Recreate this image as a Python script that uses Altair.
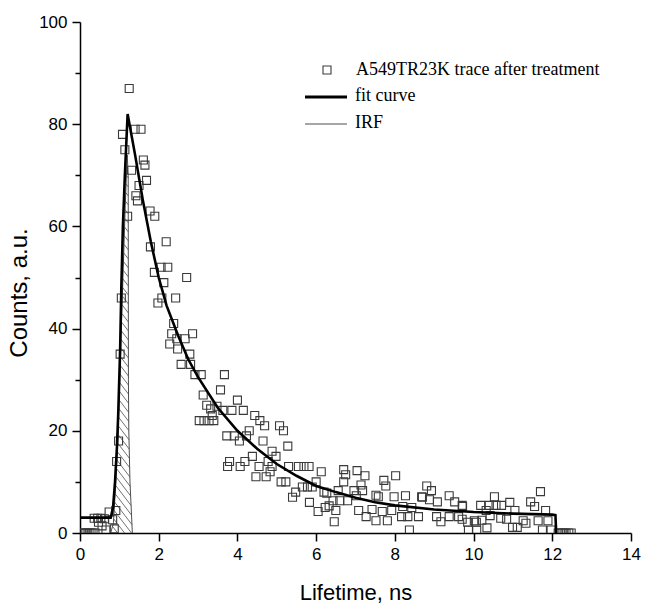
import altair as alt
import pandas as pd
import numpy as np

# ---------------- data ----------------
trace_x = [0.03, 0.08, 0.13, 0.18, 0.23, 0.28, 0.33, 0.38,
           0.36, 0.45, 0.53, 0.62, 0.47, 0.56, 0.74, 0.83, 0.66, 0.87, 0.91,
           0.93, 0.98, 1.02, 1.05,
           1.08, 1.14, 1.25, 1.21, 1.31, 1.40, 1.55, 1.42, 1.46, 1.50, 1.61, 1.65, 1.69,
           1.78, 1.90, 1.79, 2.19, 1.89, 2.06, 2.23, 2.71, 2.13, 1.98, 2.08, 2.43, 2.38,
           2.33, 2.86, 2.28, 2.46, 2.67, 2.48, 2.57, 2.79, 2.81, 2.92, 3.08, 3.67, 3.57,
           3.13, 3.22, 3.32, 3.48, 3.63, 3.86, 4.00, 4.15, 3.03, 3.15, 3.28, 3.40, 3.36,
           4.44, 4.57, 4.69, 4.30, 4.23, 3.73, 3.92, 4.05, 4.65, 5.07, 5.17, 5.28, 4.88,
           4.38, 4.98, 3.80, 3.75, 4.07, 4.19, 4.55, 4.78, 4.88, 5.30, 5.55, 5.69, 5.82,
           4.47, 4.73, 4.83, 5.11, 5.23, 6.13, 6.00, 5.65, 5.78, 5.90, 5.48, 5.40, 6.20,
           5.83, 6.05, 6.23,
           6.70, 6.75, 6.70, 7.04, 7.24, 7.14, 7.18, 6.96, 7.72, 7.77, 8.02, 6.56, 6.27,
           6.43, 6.60, 6.80, 7.02, 6.33, 6.50, 6.46, 7.08, 7.27, 7.42, 7.52, 7.58, 7.68,
           7.81, 7.92, 7.98, 8.17, 8.27, 8.33, 8.37, 8.43, 8.60, 8.68, 8.81, 8.93, 8.88,
           9.06, 9.17, 9.08, 9.38, 9.52, 9.38, 9.62, 9.72, 8.20, 7.52, 8.70, 9.85,
           9.71, 9.71, 10.02, 10.07, 9.87, 10.08, 10.34, 10.18, 10.32, 10.40, 10.53, 10.57,
           10.71, 10.69, 10.92, 11.05, 10.99, 11.11, 11.26, 11.33, 11.45, 11.55, 11.70,
           11.83, 11.64, 11.89, 11.97, 10.21, 10.42, 10.84, 11.75,
           12.15, 12.20, 12.25, 12.30, 12.35, 12.42, 12.48]
trace_y = [0, 0, 0, 0, 0, 0, 0, 0,
           2.9, 2.9, 2.9, 2.8, 2.1, 1.4, 4.1, 2.6, 0.6, 0.8, 4.4,
           14, 18, 35, 46,
           78, 75, 87, 62, 71, 79, 79, 66, 65, 68, 73, 72, 69,
           63, 62, 56, 57, 51, 52, 52, 50, 49, 45, 46, 46, 41,
           39, 39, 37, 38, 38, 36, 33, 35, 33, 31, 31, 31, 28,
           27, 25, 24.3, 24.8, 24, 24, 26, 24, 22, 22, 22, 22, 23,
           23, 22, 21, 20, 19, 19, 19, 18, 18, 21, 20, 17, 16,
           15, 15, 14, 13, 13, 14, 13, 14, 13, 13, 13, 13, 13,
           11, 11, 12, 10, 10, 12, 10, 9, 9, 9, 8, 7, 8,
           6, 4.2, 5,
           12.4, 11.4, 10, 12.2, 11.2, 9.4, 8.3, 8.3, 10.3, 9.2, 11.2, 8.3, 7.8,
           6.3, 6.3, 6.3, 7.3, 5.3, 4.4, 2.2, 4.4, 3.2, 4.6, 2.4, 7.1, 4.2,
           2.4, 4.4, 7.1, 3.2, 7.3, 3.2, 0.6, 5.0, 3.2, 7.1, 9.2, 8.3, 6.5,
           3.2, 2.2, 6.1, 7.3, 6.1, 3.2, 3.2, 5.2, 5.2, 7.4, 7.0, 2.1,
           5.4, 2.7, 2.4, 2.1, 0.6, 0.6, 1.0, 5.4, 4.4, 5.4, 7.1, 5.4,
           5.4, 2.9, 6.0, 4.4, 1.1, 1.1, 2.4, 1.9, 6.1, 5.2, 8.1,
           4.4, 2.4, 2.4, 0.6, 2.5, 3.4, 2.7, 0.6,
           0, 0, 0, 0, 0, 0, 0]

fit_x = [0.0, 0.78, 0.84, 0.89, 0.94, 0.97, 1.02, 1.05, 1.09, 1.14, 1.21, 1.40, 1.60,
         1.80, 2.00, 2.20, 2.50, 2.75, 3.00, 3.50, 4.00, 4.50, 5.00, 5.50, 6.00, 6.50,
         7.00, 7.50, 8.00, 9.00, 10.00, 11.00, 12.00, 12.08, 12.10]
fit_y = [3.0, 3.0, 5.0, 10.0, 17.0, 23.0, 36.0, 48.0, 60.0, 70.0, 82.0, 74.0, 65.0,
         57.0, 50.0, 44.5, 38.5, 34.0, 30.5, 24.5, 20.0, 16.5, 13.5, 11.2, 9.2, 8.0,
         6.9, 6.0, 5.4, 4.6, 4.1, 3.8, 3.6, 3.5, 0.0]

irf_x = [0.78, 0.85, 0.91, 0.96, 1.00, 1.05, 1.10, 1.15, 1.20, 1.225, 1.23, 1.24, 1.27, 1.33]
irf_y = [0.0, 2.0, 10.0, 18.0, 27.0, 40.0, 52.0, 64.0, 74.0, 70.0, 30.0, 20.0, 10.0, 0.0]

x_tick_values = list(range(0, 15))        # major every 2, minor every 1
y_tick_values = list(range(0, 101, 10))   # major every 20, minor every 10
legend_labels = ["A549TR23K trace after treatment", "fit curve", "IRF"]

# ---------------- layout ----------------
W, H = 551, 511
X_DOMAIN = [0, 14]
Y_DOMAIN = [0, 100]

trace_df = pd.DataFrame({"x": trace_x, "y": trace_y})
fit_df = pd.DataFrame({"x": fit_x, "y": fit_y, "i": range(len(fit_x))})
irf_df = pd.DataFrame({"x": irf_x, "y": irf_y, "i": range(len(irf_x))})

# hatch segments clipped to the IRF area (derived from the IRF arrays)
kx = W / (X_DOMAIN[1] - X_DOMAIN[0])
ky = H / (Y_DOMAIN[1] - Y_DOMAIN[0])
slope = 1.3 * kx / ky          # data-units of y per unit of x
step = 9.0 / ky                # vertical spacing of hatch lines
xs = np.linspace(irf_x[0], irf_x[-1], 4000)
top = np.interp(xs, irf_x, irf_y)
segs = []
c = step
while c < max(irf_y) + slope * (irf_x[-1] - irf_x[0]):
    yl = c - slope * (xs - irf_x[0])
    inside = np.where((yl >= 0) & (yl <= top))[0]
    if len(inside) > 1:
        a, b = inside[0], inside[-1]
        segs.append({"x": xs[a], "y": yl[a], "x2": xs[b], "y2": yl[b]})
    c += step
hatch_df = pd.DataFrame(segs)

FONT = "Liberation Sans"
SERIF = "Liberation Serif"

x_axis = alt.Axis(
    values=x_tick_values,
    labelExpr="datum.value % 2 === 0 ? datum.label : ''",
    tickSize={"condition": {"test": "datum.value % 2 === 0", "value": 8}, "value": 5},
    title="Lifetime, ns", grid=False,
    domainColor="black", domainWidth=1.5, tickColor="black", tickWidth=1.5,
    labelFont=FONT, labelFontSize=17, labelColor="black", labelPadding=5,
    labelFlush=False, labelOverlap=False,
    titleFont=FONT, titleFontSize=22, titleFontWeight="normal", titleColor="black",
    titlePadding=20,
)
y_axis = alt.Axis(
    values=y_tick_values,
    labelExpr="datum.value % 20 === 0 ? datum.label : ''",
    tickSize={"condition": {"test": "datum.value % 20 === 0", "value": 8}, "value": 5},
    title="Counts, a.u.", grid=False,
    domainColor="black", domainWidth=1.5, tickColor="black", tickWidth=1.5,
    labelFont=FONT, labelFontSize=17, labelColor="black", labelPadding=5,
    labelFlush=False, labelOverlap=False,
    titleFont=FONT, titleFontSize=24, titleFontWeight="normal", titleColor="black",
    titlePadding=7, titleY=H / 2 + 15,
)

xs_scale = alt.Scale(domain=X_DOMAIN, nice=False, zero=False)
ys_scale = alt.Scale(domain=Y_DOMAIN, nice=False, zero=False)

hatch = alt.Chart(hatch_df).mark_rule(color="#4d4d4d", strokeWidth=0.8).encode(
    x=alt.X("x:Q", scale=xs_scale, axis=x_axis),
    y=alt.Y("y:Q", scale=ys_scale, axis=y_axis),
    x2="x2:Q", y2="y2:Q",
)

irf = alt.Chart(irf_df).mark_line(color="#4d4d4d", strokeWidth=1).encode(
    x=alt.X("x:Q", scale=xs_scale), y=alt.Y("y:Q", scale=ys_scale), order="i:Q"
)

points = alt.Chart(trace_df).mark_point(
    shape="square", filled=False, size=64, strokeWidth=1.1, color="#3a3a3a",
    opacity=1, clip=True
).encode(x=alt.X("x:Q", scale=xs_scale), y=alt.Y("y:Q", scale=ys_scale))

fit = alt.Chart(fit_df).mark_line(color="black", strokeWidth=2.6).encode(
    x=alt.X("x:Q", scale=xs_scale), y=alt.Y("y:Q", scale=ys_scale), order="i:Q"
)

one = pd.DataFrame({"t": [0]})
leg_sq = alt.Chart(one).mark_point(
    shape="square", filled=False, size=64, strokeWidth=1.1, color="#3a3a3a", opacity=1
).encode(x=alt.value(247), y=alt.value(48))
leg_t1 = alt.Chart(pd.DataFrame({"t": [legend_labels[0]]})).mark_text(
    align="left", baseline="middle", font=SERIF, fontSize=18, color="black"
).encode(x=alt.value(276), y=alt.value(48), text="t:N")
leg_fit = alt.Chart(one).mark_rule(color="black", strokeWidth=3).encode(
    x=alt.value(225), x2=alt.value(267), y=alt.value(75)
)
leg_t2 = alt.Chart(pd.DataFrame({"t": [legend_labels[1]]})).mark_text(
    align="left", baseline="middle", font=SERIF, fontSize=18, color="black"
).encode(x=alt.value(275), y=alt.value(74), text="t:N")
leg_irf = alt.Chart(one).mark_rule(color="#4d4d4d", strokeWidth=1).encode(
    x=alt.value(225), x2=alt.value(267), y=alt.value(102)
)
leg_t3 = alt.Chart(pd.DataFrame({"t": [legend_labels[2]]})).mark_text(
    align="left", baseline="middle", font=SERIF, fontSize=18, color="black"
).encode(x=alt.value(275), y=alt.value(101), text="t:N")

chart = alt.layer(
    hatch, irf, points, fit, leg_sq, leg_t1, leg_fit, leg_t2, leg_irf, leg_t3
).properties(
    width=W, height=H,
    autosize=alt.AutoSizeParams(type="none"),
    padding={"left": 80, "top": 22, "right": 16, "bottom": 73},
    background="white",
).configure_view(stroke=None)

chart.save("out.html", embed_options={"renderer": "svg", "actions": False})
